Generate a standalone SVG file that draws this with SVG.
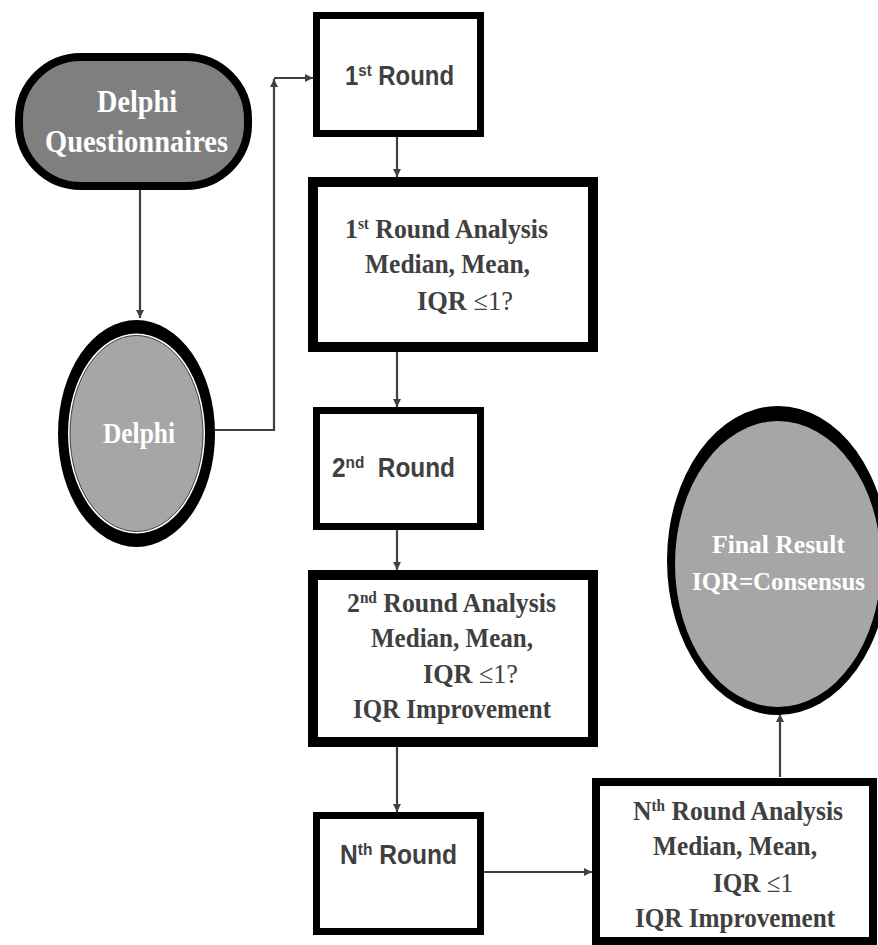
<svg xmlns="http://www.w3.org/2000/svg" width="878" height="945" viewBox="0 0 878 945">
<style>
.box{fill:#fff;stroke:#000}
.con{fill:none;stroke:#404040;stroke-width:2.2}
.sans{font-family:"Liberation Sans",Arial,sans-serif;font-weight:bold;fill:#404040;font-size:27px}
.serif{font-family:"Liberation Serif","Times New Roman",serif;font-weight:bold;fill:#404040;font-size:27px}
.wt{font-family:"Liberation Serif","Times New Roman",serif;font-weight:bold;fill:#fff}
.rg{font-weight:normal}
</style>
<defs>
<marker id="ah" viewBox="0 0 10 10" refX="10" refY="5" markerWidth="9" markerHeight="8" markerUnits="userSpaceOnUse" orient="auto">
<path d="M0,0 L10,5 L0,10 Z" fill="#404040"/>
</marker>
</defs>
<rect width="878" height="945" fill="#fff"/>
<g id="connectors">
<path class="con" d="M140,190 V318" marker-end="url(#ah)"/>
<path class="con" d="M215,430 H274 V79" marker-end="url(#ah)"/>
<path class="con" d="M274,78 H313" marker-end="url(#ah)"/>
<path class="con" d="M397,137 V177" marker-end="url(#ah)"/>
<path class="con" d="M397,352 V407" marker-end="url(#ah)"/>
<path class="con" d="M397,530 V570" marker-end="url(#ah)"/>
<path class="con" d="M397,747 V812" marker-end="url(#ah)"/>
<path class="con" d="M484,872 H592" marker-end="url(#ah)"/>
<path class="con" d="M780,777 V714" marker-end="url(#ah)"/>
</g>
<g id="delphi-questionnaires">
<rect x="19" y="57" width="229" height="129" rx="62" ry="62" fill="#7f7f7f" stroke="#000" stroke-width="8"/>
<text class="wt" x="97" y="112" font-size="32" textLength="80" lengthAdjust="spacingAndGlyphs">Delphi</text>
<text class="wt" x="45" y="152" font-size="32" textLength="183" lengthAdjust="spacingAndGlyphs">Questionnaires</text>
</g>
<g id="delphi">
<ellipse cx="136.5" cy="433.5" rx="78.5" ry="113.5" fill="#000"/>
<ellipse cx="136.5" cy="433.5" rx="68.5" ry="100" fill="#fff"/>
<ellipse cx="136.5" cy="433.5" rx="66.5" ry="98" fill="#a6a6a6" stroke="#404040" stroke-width="1"/>
<text class="wt" x="103" y="443" font-size="29" textLength="72" lengthAdjust="spacingAndGlyphs">Delphi</text>
</g>
<g id="round1">
<rect class="box" x="316.5" y="15.5" width="164" height="118" stroke-width="7"/>
<text class="sans" x="345" y="85" textLength="109" lengthAdjust="spacingAndGlyphs">1<tspan font-size="17" dy="-9">st</tspan><tspan dy="9"> Round</tspan></text>
</g>
<g id="round1-analysis">
<rect class="box" x="313" y="182" width="280" height="165" stroke-width="10"/>
<text class="serif" x="345" y="238" textLength="203" lengthAdjust="spacingAndGlyphs">1<tspan font-size="16" dy="-9">st</tspan><tspan dy="9"> Round Analysis</tspan></text>
<text class="serif" x="365" y="273" textLength="165" lengthAdjust="spacingAndGlyphs">Median, Mean,</text>
<text class="serif" x="417" y="310" textLength="96" lengthAdjust="spacingAndGlyphs">IQR <tspan class="rg">≤1?</tspan></text>
</g>
<g id="round2">
<rect class="box" x="316.5" y="410.5" width="164" height="116" stroke-width="7"/>
<text class="sans" x="332" y="477" textLength="123" lengthAdjust="spacingAndGlyphs">2<tspan font-size="17" dy="-9">nd</tspan><tspan dy="9" xml:space="preserve">  Round</tspan></text>
</g>
<g id="round2-analysis">
<rect class="box" x="313" y="575" width="280" height="167" stroke-width="10"/>
<text class="serif" x="347" y="612" textLength="209" lengthAdjust="spacingAndGlyphs">2<tspan font-size="16" dy="-9">nd</tspan><tspan dy="9"> Round Analysis</tspan></text>
<text class="serif" x="371" y="647" textLength="162" lengthAdjust="spacingAndGlyphs">Median, Mean,</text>
<text class="serif" x="423" y="683" textLength="95" lengthAdjust="spacingAndGlyphs">IQR <tspan class="rg">≤1?</tspan></text>
<text class="serif" x="353" y="718" textLength="198" lengthAdjust="spacingAndGlyphs">IQR Improvement</text>
</g>
<g id="roundN">
<rect class="box" x="316.5" y="815.5" width="164" height="116" stroke-width="7"/>
<text class="sans" x="340" y="864" textLength="117" lengthAdjust="spacingAndGlyphs">N<tspan font-size="17" dy="-9">th</tspan><tspan dy="9"> Round</tspan></text>
</g>
<g id="roundN-analysis">
<rect class="box" x="596" y="782" width="277" height="159" stroke-width="8"/>
<text class="serif" x="633" y="820" textLength="210" lengthAdjust="spacingAndGlyphs">N<tspan font-size="16" dy="-9">th</tspan><tspan dy="9"> Round Analysis</tspan></text>
<text class="serif" x="653" y="855" textLength="164" lengthAdjust="spacingAndGlyphs">Median, Mean,</text>
<text class="serif" x="713" y="892" textLength="80" lengthAdjust="spacingAndGlyphs">IQR <tspan class="rg">≤1</tspan></text>
<text class="serif" x="635" y="927" textLength="200" lengthAdjust="spacingAndGlyphs">IQR Improvement</text>
</g>
<g id="final-result">
<ellipse cx="778" cy="560.5" rx="111" ry="154.5" fill="#000"/>
<ellipse cx="778" cy="564" rx="103" ry="143" fill="#a6a6a6"/>
<text class="wt" x="712" y="553" font-size="26" textLength="133" lengthAdjust="spacingAndGlyphs">Final Result</text>
<text class="wt" x="692" y="590" font-size="26" textLength="173" lengthAdjust="spacingAndGlyphs">IQR=Consensus</text>
</g>
</svg>
